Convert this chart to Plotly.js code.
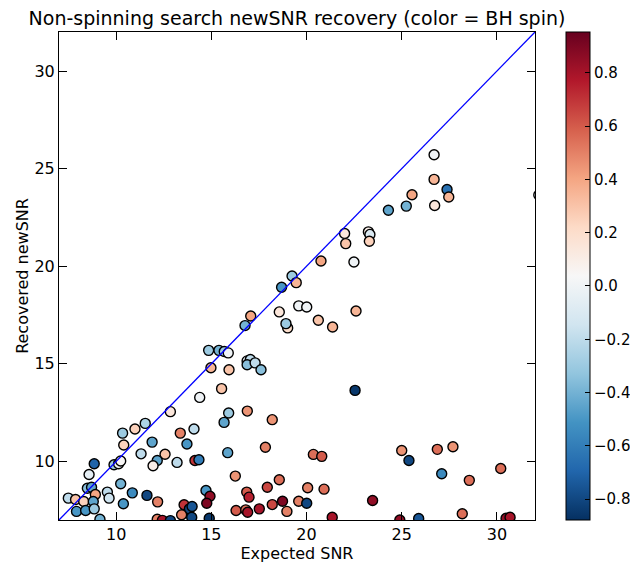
<!DOCTYPE html>
<html><head><meta charset="utf-8">
<script src="https://cdn.plot.ly/plotly-3.0.1.min.js"></script>
<style>body{margin:0;background:#fff;}</style>
</head><body><div id="chart" style="width:630px;height:568px;"></div>
<script>
const expectedSNR = [26.70,26.70,27.38,27.47,25.54,25.24,26.73,32.2,24.30,22.00,22.06,23.25,23.33,23.30,20.76,22.49,19.24,19.46,18.69,17.07,16.77,18.57,19.59,20.01,20.62,21.37,22.60,19.01,18.92,14.86,15.40,15.68,15.89,14.98,15.93,16.88,17.05,16.88,17.30,17.61,15.54,22.55,14.39,12.85,15.91,15.67,11.53,10.99,10.34,10.40,14.09,13.37,13.72,11.89,11.31,12.57,12.16,11.94,13.20,14.14,14.35,15.86,8.85,9.89,10.13,10.24,8.58,16.26,10.24,10.85,11.62,10.38,12.18,8.49,8.71,7.49,7.87,8.30,8.91,8.80,9.54,9.63,7.92,8.40,8.85,9.15,12.16,12.43,12.85,14.72,14.93,14.76,13.57,13.85,13.99,13.44,13.97,14.89,16.86,16.98,16.30,16.81,16.91,17.52,17.84,20.36,20.80,17.94,18.57,20.06,20.92,18.74,19.59,20.01,23.47,18.20,18.97,21.35,24.90,25.00,25.38,26.87,27.69,27.10,28.55,30.20,28.18,25.89,30.48,30.69,16.89,18.20];
const recoveredSNR = [25.71,24.45,23.93,23.55,23.66,23.08,23.11,23.65,22.87,21.68,21.16,21.76,21.63,21.28,20.27,20.22,19.50,19.16,18.92,17.45,16.96,17.66,17.97,17.91,17.23,16.89,17.71,16.84,17.06,15.69,15.69,15.63,15.56,14.80,14.70,15.15,15.22,14.95,15.05,14.70,13.73,13.64,13.28,12.55,12.48,12.00,11.95,11.66,11.45,10.84,11.66,11.45,10.89,10.99,10.39,10.37,10.05,9.78,9.95,10.05,10.09,10.45,9.88,9.83,9.88,10.02,9.33,9.25,8.86,8.39,8.26,7.83,7.93,8.63,8.68,8.12,8.05,7.95,8.31,7.95,8.43,8.12,7.44,7.49,7.57,7.04,7.04,6.98,6.97,8.51,8.22,7.86,7.78,7.57,7.69,7.27,7.14,7.09,8.43,8.17,7.49,7.52,7.40,7.57,10.73,10.36,10.26,8.68,9.06,8.65,8.58,7.96,7.96,7.86,8.00,7.79,7.44,7.14,7.00,10.56,10.05,10.62,10.75,9.37,9.03,9.64,7.32,7.08,7.09,7.14,12.58,12.14];
const bhSpin = [0.0,0.35,-0.65,0.35,0.4,-0.4,0.15,-0.1,-0.45,0.15,0.3,0.1,-0.1,0.25,0.4,0.0,-0.3,0.35,-0.5,0.4,-0.4,0.15,0.0,0.0,0.3,0.35,0.35,0.2,-0.3,-0.3,-0.4,-0.3,0.0,0.35,0.3,-0.05,-0.2,-0.35,-0.2,-0.35,0.3,-0.85,0.0,0.15,-0.3,-0.45,-0.25,0.25,-0.3,0.25,-0.2,0.5,-0.5,-0.45,-0.2,0.3,-0.45,0.1,-0.2,0.7,-0.6,-0.45,-0.7,-0.3,0.0,0.05,-0.05,0.45,-0.4,-0.55,-0.8,-0.5,0.5,-0.35,-0.45,-0.2,0.3,0.25,0.4,-0.45,-0.2,-0.15,-0.5,-0.5,-0.3,-0.4,0.5,0.8,-0.8,-0.5,0.85,0.9,0.7,-0.8,-0.75,0.5,-0.8,-0.85,0.6,0.75,0.6,0.55,0.8,0.8,0.5,0.55,0.6,0.65,0.55,0.5,0.55,0.9,0.5,-0.8,0.85,0.65,0.5,0.8,0.85,0.45,-0.8,0.55,0.45,-0.55,0.55,0.55,0.55,-0.75,0.85,0.8,0.45,0.45];
const diagonal = [0, 40];
const axisTicks = [10, 15, 20, 25, 30];
const spinTicks = [-0.8, -0.6, -0.4, -0.2, 0.0, 0.2, 0.4, 0.6, 0.8];
const spinRange = [-0.878, 0.953];

const rdbuR = [
  [0.0, '#053061'], [0.1, '#2166ac'], [0.2, '#4393c3'], [0.3, '#92c5de'],
  [0.4, '#d1e5f0'], [0.5, '#f7f7f7'], [0.6, '#fddbc7'], [0.7, '#f4a582'],
  [0.8, '#d6604d'], [0.9, '#b2182b'], [1.0, '#67001f']
];
const font = {family: 'DejaVu Sans', color: '#000', size: 16};
const cbFont = {family: 'DejaVu Sans', color: '#000', size: 15};

const traces = [
  {
    type: 'scatter', mode: 'markers', x: expectedSNR, y: recoveredSNR,
    marker: {
      size: 10, color: bhSpin, colorscale: rdbuR, cmin: spinRange[0], cmax: spinRange[1],
      line: {color: '#000', width: 1.4},
      colorbar: {
        x: 1.065, xanchor: 'left', y: 0.5, yanchor: 'middle', len: 1, lenmode: 'fraction',
        thickness: 24, outlinecolor: '#000', outlinewidth: 1,
        tickvals: spinTicks, tickformat: '.1f', ticks: 'inside', ticklen: 5, tickcolor: '#000',
        tickfont: cbFont, xpad: 0, ypad: 0
      }
    },
    hoverinfo: 'skip'
  },
  {
    type: 'scatter', mode: 'lines', x: diagonal, y: diagonal,
    line: {color: '#0000ff', width: 1.3}, hoverinfo: 'skip'
  }
];

const axisBase = {
  showgrid: false, zeroline: false, showline: true, mirror: 'ticks', linecolor: '#000', linewidth: 1,
  ticks: 'inside', ticklen: 8, tickcolor: '#000', tickvals: axisTicks, tickfont: font
};

const layout = {
  width: 630, height: 568, showlegend: false,
  paper_bgcolor: '#fff', plot_bgcolor: '#fff', font: font,
  margin: {l: 59, r: 95, t: 32, b: 48, autoexpand: false},
  title: {text: 'Non-spinning search newSNR recovery (color = BH spin)', font: {family: 'DejaVu Sans', size: 19, color: '#000'}, xref: 'paper', x: 0.5, xanchor: 'center', y: 0.968, yanchor: 'middle'},
  xaxis: Object.assign({}, axisBase, {range: [7, 32], title: {text: 'Expected SNR', font: font, standoff: 3}}),
  yaxis: Object.assign({}, axisBase, {range: [7, 32], title: {text: 'Recovered newSNR', font: font, standoff: 1}})
};

Plotly.newPlot('chart', traces, layout, {staticPlot: true});
</script>
</body></html>
